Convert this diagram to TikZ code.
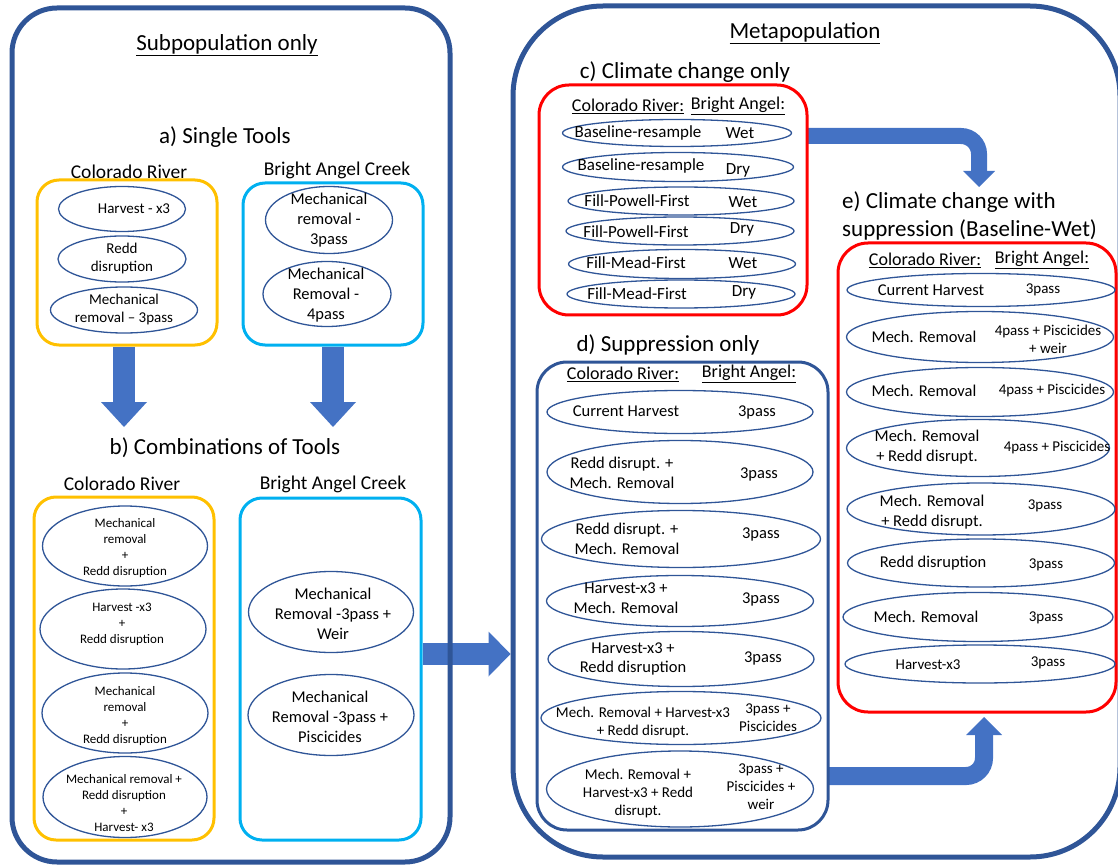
\documentclass[tikz,border=0pt]{standalone}
\usepackage{fontspec}
\setmainfont{Carlito}
\usetikzlibrary{shapes.geometric,arrows.meta,backgrounds}
\definecolor{frameblue}{HTML}{2F5597}
\definecolor{arrowblue}{HTML}{4472C4}
\definecolor{ovalblue}{HTML}{2F5597}
\definecolor{toolorange}{HTML}{FFC000}
\definecolor{creekcyan}{HTML}{00B0F0}
\definecolor{climred}{HTML}{FF0000}
\begin{document}
\begin{tikzpicture}[x=1pt, y=-1pt,
    wh/.style 2 args={minimum width=#1pt, minimum height=#2pt},
    frame/.style={draw=frameblue, line width=5pt, inner sep=0pt},
    obox/.style={draw=toolorange, line width=3pt, rounded corners=22pt, inner sep=0pt},
    cybox/.style={draw=creekcyan, line width=3pt, rounded corners=22pt, inner sep=0pt},
    redbox/.style={draw=climred, line width=3pt, rounded corners=30pt, inner sep=0pt},
    supbox/.style={draw=frameblue, line width=3pt, rounded corners=30pt, inner sep=0pt},
    oval/.style={ellipse, draw=ovalblue, line width=1.3pt, inner sep=0pt},
    txt/.style={align=center, inner sep=0pt},
    ttl/.style={txt, font=\fontsize{23}{28}\selectfont},
    riv/.style={txt, font=\fontsize{19.5}{23}\selectfont},
    colhead/.style={txt, font=\fontsize{18}{21}\selectfont},
    f13/.style={txt, font=\fontsize{13}{16}\selectfont},
    f15/.style={txt, font=\fontsize{15}{18}\selectfont},
    f16/.style={txt, font=\fontsize{16.5}{19.8}\selectfont},
    f17/.style={txt, font=\fontsize{17}{20}\selectfont},
    bigarrow/.style={color=arrowblue, line width=22pt, -{Triangle[width=46pt,length=25pt,line width=0pt]}},
    bendarrow/.style={color=arrowblue, rounded corners=18pt, line width=#1pt, -{Triangle[width=2*#1pt,length=#1pt,line width=0pt]}}
  ]
\useasboundingbox (0,0) rectangle (1118,866);

\node[frame, rounded corners=45pt, wh={438}{854}] (sub) at (231,435) {};
\node[ttl] (subttl) at (227,45) {\underline{Subpopulation only}};

\node[ttl] (attl) at (225,137) {a) Single Tools};
\node[riv] (acr) at (129,172) {Colorado River};
\node[riv] (abac) at (337,170) {Bright Angel Creek};
\node[obox, wh={180}{165}] (abox1) at (127,262.5) {};
\node[cybox, wh={180}{162}] (abox2) at (333,264) {};
\node[oval, wh={127}{45}] (a1) at (122,209) {};
\node[oval, wh={128}{46}] (a2) at (122,259) {};
\node[oval, wh={147}{46}] (a3) at (124,310) {};
\node[oval, wh={127}{67}] (a4) at (329,220) {};
\node[oval, wh={128}{65}] (a5) at (327,294) {};
\node[f15] (a1t) at (134,209) {Harvest - x3};
\node[f15] (a2t) at (122,259) {Redd\\disruption};
\node[f15] (a3t) at (124,310) {Mechanical\\removal – 3pass};
\node[f16] (a4t) at (329,220) {Mechanical\\removal -\\3pass};
\node[f16] (a5t) at (326,295) {Mechanical\\Removal -\\4pass};

\node[ttl] (bttl) at (225,448) {b) Combinations of Tools};
\node[riv] (bcr) at (122,484) {Colorado River};
\node[riv] (bbac) at (333,484) {Bright Angel Creek};
\node[obox, wh={180}{343}] (bbox1) at (124,668.5) {};
\node[cybox, wh={181}{342}] (bbox2) at (330.5,669) {};
\node[oval, wh={165}{80}] (b1) at (125,546) {};
\node[oval, wh={166}{80}] (b2) at (123,629) {};
\node[oval, wh={166}{80}] (b3) at (125,713) {};
\node[oval, wh={164}{81}] (b4) at (125,797) {};
\node[oval, wh={165}{81}] (b5) at (331,612) {};
\node[oval, wh={166}{81}] (b6) at (331,715) {};
\node[f13] (b1t) at (125,548) {Mechanical\\removal\\+\\Redd disruption};
\node[f13] (b2t) at (122,624) {Harvest -x3\\+\\Redd disruption};
\node[f13] (b3t) at (125,716) {Mechanical\\removal\\+\\Redd disruption};
\node[f13] (b4t) at (124,803) {Mechanical removal +\\Redd disruption\\+\\Harvest- x3};
\node[f16] (b5t) at (333,614) {Mechanical\\Removal -3pass +\\Weir};
\node[f16] (b6t) at (330,717) {Mechanical\\Removal -3pass +\\Piscicides};

\node[frame, rounded corners=90pt, wh={607}{851}] (meta) at (816.5,431.5) {};
\node[ttl] (metattl) at (805,33) {\underline{Metapopulation}};

\node[ttl] (cttl) at (685,72) {c) Climate change only};
\node[redbox, wh={268}{230}] (cbox) at (673,200) {};
\node[colhead] (ch1) at (628,106) {\underline{Colorado River:}};
\node[colhead] (ch2) at (738,106) {\underline{Bright Angel:}};
\node[oval, wh={229}{27}] (c1) at (677,133) {};
\node[oval, wh={231}{29}] (c2) at (678,167) {};
\node[oval, wh={226}{28}] (c3) at (681,201) {};
\node[oval, wh={228}{28}] (c4) at (680,231) {};
\node[oval, wh={227}{29}] (c5) at (682,264) {};
\node[oval, wh={228}{28}] (c6) at (681,294) {};
\node[f17] (c1l) at (638,133) {Baseline-resample};
\node[f17] (c1r) at (740,133) {Wet};
\node[f17] (c2l) at (641,166) {Baseline-resample};
\node[f17] (c2r) at (738,170) {Dry};
\node[f17] (c3l) at (637,201) {Fill-Powell-First};
\node[f17] (c3r) at (743,202) {Wet};
\node[f17] (c4l) at (636,232) {Fill-Powell-First};
\node[f17] (c4r) at (742,229) {Dry};
\node[f17] (c5l) at (636,263) {Fill-Mead-First};
\node[f17] (c5r) at (743,263) {Wet};
\node[f17] (c6l) at (637,294) {Fill-Mead-First};
\node[f17] (c6r) at (744,292) {Dry};

\node[ttl] (dttl) at (668,345) {d) Suppression only};
\node[supbox, wh={291}{468}] (dbox) at (682.5,596) {};
\node[colhead] (dh1) at (623,374) {\underline{Colorado River:}};
\node[colhead] (dh2) at (749,374) {\underline{Bright Angel:}};
\node[oval, wh={266}{43}] (d1) at (680,412) {};
\node[oval, wh={266}{63}] (d2) at (680,472) {};
\node[oval, wh={279}{57}] (d3) at (681,539) {};
\node[oval, wh={267}{51}] (d4) at (680,601) {};
\node[oval, wh={266}{55}] (d5) at (681,659) {};
\node[oval, wh={280}{53}] (d6) at (681,718) {};
\node[oval, wh={267}{76}] (d7) at (680,789) {};
\node[f16] (d1l) at (626,411) {Current Harvest};
\node[f16] (d1r) at (757,412) {3pass};
\node[f16] (d2l) at (622,473) {Redd disrupt. +\\Mech. Removal};
\node[f16] (d2r) at (759,474) {3pass};
\node[f16] (d3l) at (627,539) {Redd disrupt. +\\Mech. Removal};
\node[f16] (d3r) at (761,534) {3pass};
\node[f16] (d4l) at (626,598) {Harvest-x3 +\\Mech. Removal};
\node[f16] (d4r) at (761,599) {3pass};
\node[f16] (d5l) at (633,659) {Harvest-x3 +\\Redd disruption};
\node[f16] (d5r) at (763,658) {3pass};
\node[f15] (d6l) at (643,722) {Mech. Removal + Harvest-x3\\+ Redd disrupt.};
\node[f15] (d6r) at (768,718) {3pass +\\Piscicides};
\node[f15] (d7l) at (638,793) {Mech. Removal +\\Harvest-x3 + Redd\\disrupt.};
\node[f15] (d7r) at (761,787) {3pass +\\Piscicides +\\weir};

\node[ttl, align=left, anchor=west] (ettl) at (842,216) {e) Climate change with\\suppression (Baseline-Wet)};
\node[redbox, wh={278}{469}] (ebox) at (977,477.5) {};
\node[colhead] (eh1) at (925,260) {\underline{Colorado River:}};
\node[colhead] (eh2) at (1042,260) {\underline{Bright Angel:}};
\node[oval, wh={268}{33}] (e1) at (981,290) {};
\node[oval, wh={267}{51}] (e2) at (980,337) {};
\node[oval, wh={267}{49}] (e3) at (980,392) {};
\node[oval, wh={263}{57}] (e4) at (978,448) {};
\node[oval, wh={268}{52}] (e5) at (981,509) {};
\node[oval, wh={267}{48}] (e6) at (981,563) {};
\node[oval, wh={270}{49}] (e7) at (978,617) {};
\node[oval, wh={270}{38}] (e8) at (980,664) {};
\node[f16] (e1l) at (931,290) {Current Harvest};
\node[f15] (e1r) at (1043,290) {3pass};
\node[f16] (e2l) at (924,337) {Mech. Removal};
\node[f15] (e2r) at (1048,339) {4pass + Piscicides\\+ weir};
\node[f16] (e3l) at (924,391) {Mech. Removal};
\node[f15] (e3r) at (1052,391) {4pass + Piscicides};
\node[f16] (e4l) at (927,447) {Mech. Removal\\+ Redd disrupt.};
\node[f15] (e4r) at (1057,447) {4pass + Piscicides};
\node[f16] (e5l) at (932,512) {Mech. Removal\\+ Redd disrupt.};
\node[f15] (e5r) at (1045,506) {3pass};
\node[f16] (e6l) at (933,563) {Redd disruption};
\node[f15] (e6r) at (1046,565) {3pass};
\node[f16] (e7l) at (926,617) {Mech. Removal};
\node[f15] (e7r) at (1046,618) {3pass};
\node[f15] (e8l) at (928,665) {Harvest-x3};
\node[f15] (e8r) at (1048,663) {3pass};

\coordinate (adown1) at (124,427);
\coordinate (adown2) at (333,427);
\coordinate (bout) at ([yshift=15pt]bbox2.east);
\coordinate (cout) at (807,136);
\coordinate (ein1) at (979,187);
\coordinate (dout) at (828,776);
\coordinate (ein2) at (984,717);

\begin{scope}[on background layer]
\draw[bigarrow] (abox1.south -| adown1) -- (adown1);
\draw[bigarrow] (abox2.south -| adown2) -- (adown2);
\draw[color=arrowblue, line width=22pt, -{Triangle[width=45pt,length=22pt,line width=0pt]}] (bout) -- (bout -| meta.west);
\draw[bendarrow=16] (cout) -| (ein1);
\draw[bendarrow=18] (dout) -| (ein2);
\end{scope}
\end{tikzpicture}
\end{document}
